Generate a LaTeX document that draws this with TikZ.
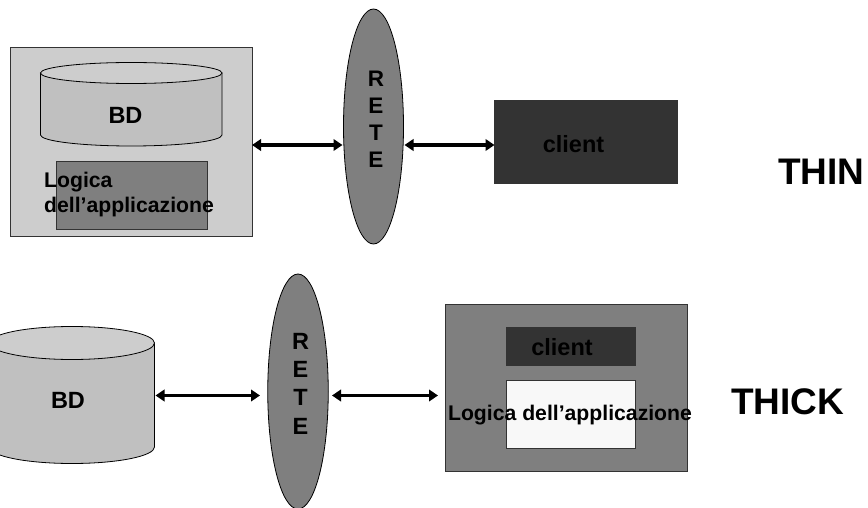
\documentclass[tikz,border=0pt]{standalone}
\usepackage{fontspec}
\setmainfont{Liberation Sans}
\usetikzlibrary{shapes.geometric,arrows.meta}
\definecolor{lightbox}{HTML}{CDCDCD}
\definecolor{cylbody}{HTML}{C0C0C0}
\definecolor{midgrey}{HTML}{7F7F7F}
\definecolor{darkbox}{HTML}{333333}
\definecolor{whitebox}{HTML}{F8F8F8}
\tikzset{
  box/.style={draw=black!80,line width=0.9pt,rectangle,inner sep=0pt,outer sep=0pt,anchor=north west},
  rete/.style={draw=black,line width=0.8pt,ellipse,fill=midgrey,inner sep=0pt,outer sep=0pt},
  cyl/.style={draw=black,line width=0.8pt},
  link/.style={line width=3.2pt,{Triangle[length=9pt,width=11.5pt]}-{Triangle[length=9pt,width=11.5pt]}},
  lab/.style={font=\bfseries\fontsize{21.2}{24}\selectfont,inner sep=0pt,text=black},
  shortlab/.style={font=\bfseries\fontsize{23.5}{24}\selectfont,inner sep=0pt,text=black},
  big/.style={font=\bfseries\fontsize{37}{40}\selectfont,inner sep=0pt,text=black},
  retetext/.style={font=\bfseries\fontsize{22.5}{27}\selectfont,inner sep=0pt,align=center,text=black},
  retetextb/.style={font=\bfseries\fontsize{23.5}{28.3}\selectfont,inner sep=0pt,align=center,text=black}
}
\begin{document}
\begin{tikzpicture}[x=1pt,y=-1pt]
\useasboundingbox (0,0) rectangle (868,508);
\clip (0,0) rectangle (868,508);
% top row
\node[box,fill=lightbox,minimum width=241.5pt,minimum height=189.5pt] (srv) at (10.5,47) {};
\path[cyl,fill=cylbody] (40.5,73) -- (40.5,135) arc[start angle=180,end angle=360,x radius=90.75pt,y radius=11pt] -- (222,73) -- cycle;
\draw[cyl,fill=lightbox] (131.25,73) ellipse[x radius=90.75pt,y radius=10.5pt];
\node[shortlab] (bdtop) at (125.5,115) {BD};
\node[box,fill=midgrey,minimum width=151pt,minimum height=68pt] (logtop) at (56,161) {};
\node[lab,anchor=base west] (logA) at (44,187) {Logica};
\node[lab,anchor=base west] (logB) at (44,212) {dell’applicazione};
\node[rete,minimum width=60pt,minimum height=235pt] (retetop) at (373.5,126.5) {};
\node[retetext] (retetoptext) at (376,119) {R\\E\\T\\E};
\node[box,fill=darkbox,minimum width=182.5pt,minimum height=83pt] (clitop) at (494.5,100) {};
\node[shortlab,anchor=base] (clitoptext) at (573.5,153) {client};
\node[big,anchor=base west] (thin) at (778,185) {THIN};
\coordinate (a1) at (srv.east |- 0,145);
\coordinate (a2) at (342.5,145);
\coordinate (a3) at (404.5,145);
\coordinate (a4) at (clitop.west |- 0,145);
\draw[link] (a1) -- (a2);
\draw[link] (a3) -- (a4);
% bottom row
\path[cyl,fill=cylbody] (-10.5,343) -- (-10.5,447) arc[start angle=180,end angle=360,x radius=82.5pt,y radius=16.5pt] -- (154.5,343) -- cycle;
\draw[cyl,fill=lightbox] (72,343) ellipse[x radius=82.5pt,y radius=16.5pt];
\node[shortlab] (bdbot) at (68,400) {BD};
\node[rete,minimum width=60.5pt,minimum height=235pt] (retebot) at (298,391.5) {};
\node[retetextb] (retebottext) at (300.5,383.5) {R\\E\\T\\E};
\node[box,fill=midgrey,minimum width=242pt,minimum height=166.5pt] (clibox) at (445.5,304.5) {};
\node[box,fill=darkbox,minimum width=129pt,minimum height=38pt] (cliinner) at (506,327) {};
\node[shortlab,anchor=base] (cliinnertext) at (562,355.5) {client};
\node[box,fill=whitebox,minimum width=129pt,minimum height=68pt] (logbot) at (506,380) {};
\node[lab,anchor=base] (logbottext) at (570,420.5) {Logica dell’applicazione};
\node[big,anchor=base west] (thick) at (731,414) {THICK};
\coordinate (b1) at (155.5,395.5);
\coordinate (b2) at (260,395.5);
\coordinate (b3) at (332,395.5);
\coordinate (b4) at (438,395.5);
\draw[link] (b1) -- (b2);
\draw[link] (b3) -- (b4);
\end{tikzpicture}
\end{document}
